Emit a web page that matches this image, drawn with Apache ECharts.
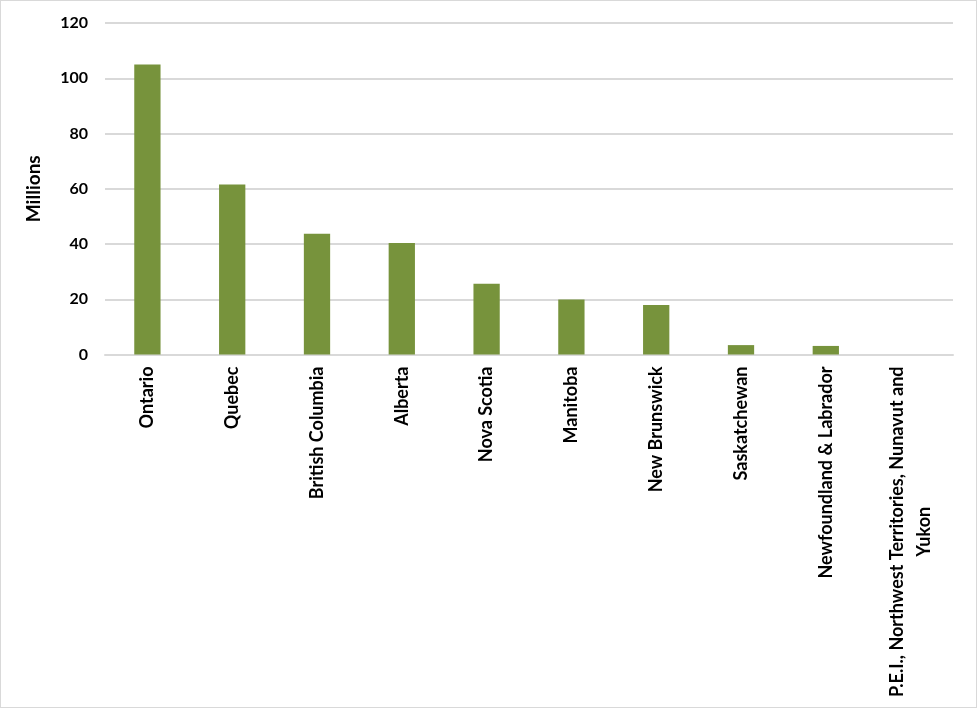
<!DOCTYPE html>
<html>
<head>
<meta charset="utf-8">
<script src="https://cdn.jsdelivr.net/npm/echarts@6/dist/echarts.min.js"></script>
<style>
html,body{margin:0;padding:0;background:#fff;}
#wrap{position:absolute;left:0;top:0;width:975px;height:706px;border:1px solid #d9d9d9;}
#chart{width:975px;height:706px;}
</style>
</head>
<body>
<div id="wrap"><div id="chart"></div></div>
<script>
const categories = ["Ontario","Quebec","British Columbia","Alberta","Nova Scotia","Manitoba","New Brunswick","Saskatchewan","Newfoundland & Labrador","P.E.I., Northwest Territories, Nunavut and\nYukon"];
const values = [105.0, 61.5, 43.7, 40.4, 25.6, 19.9, 17.9, 3.4, 3.1, 0];
const yTicks = [0, 20, 40, 60, 80, 100, 120];
const yAxisName = "Millions";

const chart = echarts.init(document.getElementById('chart'));
const font = 'Lato';
chart.setOption({
  animation: false,
  grid: { left: 104, right: 23, top: 22, bottom: 352.5, containLabel: false },
  xAxis: {
    type: 'category',
    data: categories,
    axisLine: { show: true, lineStyle: { color: '#d9d9d9', width: 2 } },
    axisTick: { show: false },
    axisLabel: {
      interval: 0,
      rotate: 90,
      margin: 12,
      formatter: function (v) {
        return v.split('\n').map(function (l) { return '{c|' + l + '}'; }).join('\n');
      },
      rich: { c: { align: 'center', fontFamily: font, fontWeight: 'bold', fontSize: 18, color: '#000', lineHeight: 27 } }
    }
  },
  yAxis: {
    type: 'value',
    min: yTicks[0],
    max: yTicks[yTicks.length - 1],
    interval: yTicks[1] - yTicks[0],
    name: yAxisName,
    nameLocation: 'middle',
    nameRotate: 90,
    nameGap: 62,
    nameTextStyle: { fontFamily: font, fontWeight: 'bold', fontSize: 19, color: '#000' },
    axisLine: { show: false },
    axisTick: { show: false },
    axisLabel: { margin: 17, fontFamily: font, fontWeight: 'bold', fontSize: 16, color: '#000' },
    splitLine: { lineStyle: { color: '#d9d9d9', width: 2 } }
  },
  series: [{
    type: 'bar',
    data: values,
    barWidth: '31%',
    itemStyle: { color: '#77933C' }
  }]
});
</script>
</body>
</html>
